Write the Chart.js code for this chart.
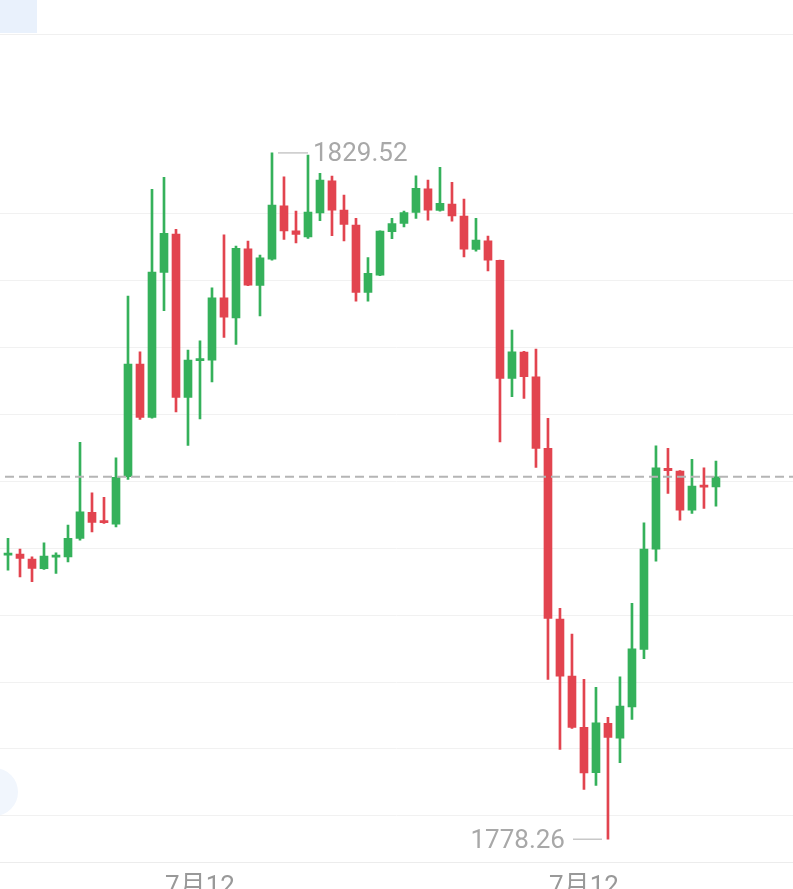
<!DOCTYPE html>
<html>
<head>
<meta charset="utf-8">
<script src="https://cdn.jsdelivr.net/npm/chart.js@4.4.1/dist/chart.umd.min.js"></script>
<style>
  html, body { margin: 0; padding: 0; background: #fff; overflow: hidden; }
  #wrap { position: absolute; left: 0; top: 0; width: 793px; height: 912px; }
  #tab { position: absolute; left: 0; top: 0; width: 37px; height: 33px; background: #e9f1fc; }
  #topline { position: absolute; left: 0; top: 34px; width: 793px; height: 1px; background: #f0f0f0; }
  #fab { position: absolute; left: -30px; top: 768px; width: 48px; height: 48px; border-radius: 50%; background: #f1f6fd; }
</style>
</head>
<body>
<div id="wrap"><canvas id="kChart" width="793" height="912"></canvas></div>
<div id="tab"></div>
<div id="topline"></div>
<div id="fab"></div>
<script>
// candle values, left to right
var opens = [1799.48, 1799.56, 1799.18, 1798.47, 1799.33, 1799.35, 1800.73, 1802.67, 1801.98, 1801.80,
  1805.33, 1813.75, 1809.76, 1820.59, 1823.45, 1811.26, 1814.01, 1814.04, 1818.70, 1817.20,
  1822.36, 1819.62, 1821.59, 1825.57, 1823.70, 1823.25, 1825.04, 1827.43, 1825.25, 1824.13,
  1819.10, 1820.39, 1823.63, 1824.25, 1825.07, 1826.84, 1825.22, 1825.69, 1824.80, 1822.31,
  1822.95, 1821.49, 1812.68, 1814.64, 1812.80, 1807.45, 1794.70, 1790.44, 1786.61, 1783.24,
  1786.91, 1785.81, 1788.15, 1792.44, 1799.93, 1805.96, 1805.75, 1802.84, 1804.71, 1804.58];
var highs = [1800.73, 1799.93, 1799.35, 1800.40, 1799.65, 1801.72, 1807.90, 1804.13, 1803.79, 1806.75,
  1818.82, 1814.66, 1826.79, 1827.69, 1823.81, 1814.79, 1815.49, 1819.44, 1823.40, 1822.56,
  1822.93, 1821.89, 1829.52, 1827.73, 1825.17, 1829.35, 1827.99, 1827.79, 1826.37, 1824.63,
  1821.71, 1823.70, 1824.63, 1825.17, 1827.81, 1827.49, 1828.44, 1827.32, 1826.07, 1824.63,
  1823.30, 1821.51, 1816.28, 1814.70, 1814.87, 1809.69, 1795.50, 1793.58, 1790.20, 1789.60,
  1787.36, 1790.39, 1795.87, 1801.89, 1807.64, 1807.45, 1805.80, 1806.63, 1806.00, 1806.50];
var lows = [1798.36, 1797.86, 1797.49, 1798.41, 1798.11, 1798.98, 1800.60, 1801.22, 1801.85, 1801.59,
  1805.13, 1809.62, 1809.70, 1817.73, 1810.18, 1807.67, 1809.66, 1812.42, 1815.74, 1815.22,
  1819.61, 1817.35, 1821.51, 1823.06, 1822.80, 1823.13, 1824.45, 1823.33, 1822.95, 1818.45,
  1818.45, 1820.35, 1823.12, 1824.00, 1824.63, 1824.50, 1825.17, 1824.42, 1821.76, 1822.18,
  1820.71, 1807.94, 1811.32, 1811.18, 1806.03, 1790.20, 1784.97, 1786.54, 1781.98, 1782.28,
  1778.26, 1783.98, 1787.21, 1791.74, 1799.03, 1804.09, 1802.09, 1802.60, 1802.97, 1803.14];
var closes = [1799.63, 1799.23, 1798.49, 1799.41, 1799.44, 1800.73, 1802.71, 1801.92, 1801.91, 1805.28,
  1813.75, 1809.76, 1820.62, 1823.51, 1811.26, 1814.04, 1814.08, 1818.70, 1817.26, 1822.39,
  1819.65, 1821.68, 1825.62, 1823.70, 1823.43, 1825.10, 1827.49, 1825.25, 1824.18, 1819.10,
  1820.52, 1823.68, 1824.25, 1825.07, 1826.87, 1825.25, 1825.75, 1824.82, 1822.33, 1823.01,
  1821.51, 1812.68, 1814.66, 1812.80, 1807.45, 1794.75, 1790.44, 1786.61, 1783.22, 1786.96,
  1785.87, 1788.20, 1792.48, 1799.93, 1806.00, 1805.78, 1802.84, 1804.63, 1804.56, 1805.33];

var xTickIdx = [16, 48];
var xTickLabels = ['7月12', '7月12'];
var yGridValues = [1780, 1785, 1790, 1795, 1800, 1805, 1810, 1815, 1820, 1825];

var upColor = '#35b15b';
var downColor = '#e2444f';

var candleColors = opens.map(function (o, i) { return closes[i] >= o ? upColor : downColor; });

var wickData = opens.map(function (o, i) { return { x: i, y: [lows[i], highs[i]] }; });
var bodyData = opens.map(function (o, i) { return { x: i, y: [o, closes[i]] }; });

var markers = {
  id: 'markers',
  afterDatasetsDraw: function (chart) {
    var ctx = chart.ctx, area = chart.chartArea, xs = chart.scales.x, ys = chart.scales.y;

    // last price line
    var lastY = ys.getPixelForValue(closes[closes.length - 1]);
    ctx.save();
    ctx.strokeStyle = '#b5b5b5';
    ctx.lineWidth = 2;
    ctx.setLineDash([9, 5]);
    ctx.beginPath();
    ctx.moveTo(area.left + 5, lastY);
    ctx.lineTo(area.right, lastY);
    ctx.stroke();
    ctx.setLineDash([]);

    // highest / lowest marks
    var hi = Math.max.apply(null, highs), hiIdx = highs.indexOf(hi);
    var lo = Math.min.apply(null, lows), loIdx = lows.indexOf(lo);
    ctx.font = '26px Roboto';
    ctx.fillStyle = '#a8a8a8';
    ctx.strokeStyle = '#c8c8c8';
    ctx.lineWidth = 1.5;
    ctx.textBaseline = 'middle';

    var px = xs.getPixelForValue(hiIdx), py = ys.getPixelForValue(hi);
    ctx.beginPath();
    ctx.moveTo(px + 6, py);
    ctx.lineTo(px + 36, py);
    ctx.stroke();
    ctx.textAlign = 'left';
    ctx.fillText(hi.toFixed(2), px + 41, py + 2);

    px = xs.getPixelForValue(loIdx); py = ys.getPixelForValue(lo);
    ctx.beginPath();
    ctx.moveTo(px - 6, py);
    ctx.lineTo(px - 35, py);
    ctx.stroke();
    ctx.textAlign = 'right';
    ctx.fillText(lo.toFixed(2), px - 43, py + 2);
    ctx.restore();
  }
};

var ctx = document.getElementById('kChart').getContext('2d');

var kChart = new Chart(ctx, {
  type: 'bar',
  data: {
    datasets: [{
      label: 'wick',
      data: wickData,
      backgroundColor: candleColors,
      barThickness: 2,
      grouped: false
    }, {
      label: 'body',
      data: bodyData,
      backgroundColor: candleColors,
      barThickness: 8,
      minBarLength: 2,
      grouped: false
    }]
  },
  options: {
    responsive: false,
    animation: false,
    devicePixelRatio: 1,
    layout: { padding: { top: 34, left: 0, right: 0, bottom: 0 } },
    plugins: {
      legend: { display: false },
      tooltip: { enabled: false }
    },
    scales: {
      x: {
        type: 'linear',
        offset: false,
        min: -0.667,
        max: 65.42,
        afterBuildTicks: function (scale) {
          scale.ticks = xTickIdx.map(function (v) { return { value: v }; });
        },
        ticks: {
          autoSkip: false,
          maxRotation: 0,
          padding: 9,
          color: '#999',
          font: { family: 'Roboto, "Noto Sans CJK SC"', size: 26 },
          callback: function (val, idx) { return xTickLabels[idx]; }
        },
        grid: { display: false, drawTicks: false },
        border: { display: true, color: '#ececec', width: 1 }
      },
      y: {
        min: 1776.5,
        max: 1838.4,
        afterBuildTicks: function (scale) {
          scale.ticks = yGridValues.map(function (v) { return { value: v }; });
        },
        ticks: { display: false },
        grid: { color: '#f1f1f1', lineWidth: 1, drawTicks: false },
        border: { display: false }
      }
    }
  },
  plugins: [markers]
});
</script>
</body>
</html>
